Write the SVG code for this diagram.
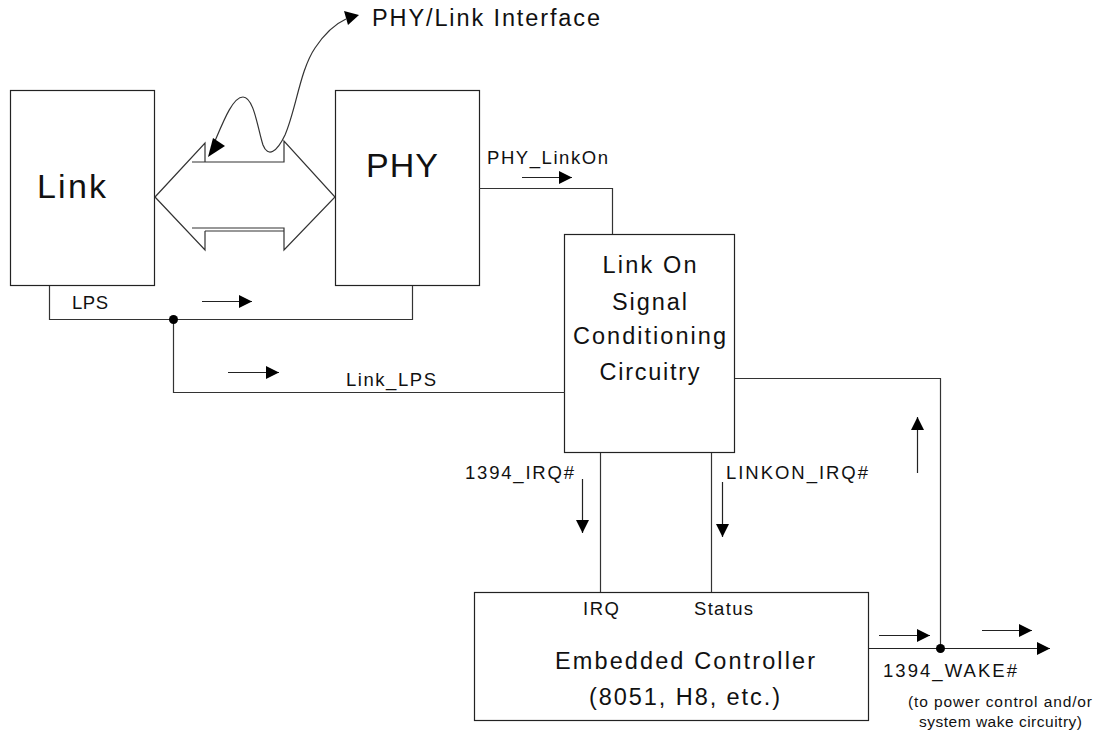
<svg xmlns="http://www.w3.org/2000/svg" width="1098" height="740" viewBox="0 0 1098 740">
<defs>
<style>
.box{fill:#fff;stroke:#222;stroke-width:1.2}
.ln{fill:none;stroke:#333;stroke-width:1.2}
.arr{fill:none;stroke:#222;stroke-width:1.2;marker-end:url(#ah)}
.t{font-family:"Liberation Sans",Arial,sans-serif;fill:#111}
.big{font-size:34px}
.mid{font-size:23.5px}
.sm{font-size:18.5px}
.xs{font-size:15.5px}
</style>
<marker id="ah" markerUnits="userSpaceOnUse" markerWidth="14" markerHeight="14" refX="13" refY="6.5" orient="auto">
<path d="M0,0 L13,6.5 L0,13 z" fill="#000"/>
</marker>
</defs>
<rect width="1098" height="740" fill="#fff"/>

<g id="link">
<rect class="box" x="10.5" y="90.5" width="144" height="195"/>
<text class="t big" x="37" y="198" textLength="69" lengthAdjust="spacing">Link</text>
</g>

<g id="phy">
<rect class="box" x="335.5" y="90.5" width="144" height="195"/>
<text class="t big" x="366" y="177" textLength="72" lengthAdjust="spacing">PHY</text>
</g>

<g id="bus">
<path class="ln" d="M155,197 L205,143 L205,162 M192,162 L284,162 L284,141 L335,197 L284,250 L284,228 L192,228 M205,231 L284,231 M205,231 L205,250 L155,197"/>
</g>

<g id="interface-label">
<path class="ln" d="M212,148 C222,125 232,97 243,97 C254,97 258,130 263,145 C268,158 277,152 285,135 C296,110 300,70 315,48 C325,33 335,24 346,19"/>
<polygon points="208,157 213,138 225,146" fill="#000"/>
<polygon points="359,15 344,11 348,25" fill="#000"/>
<text class="t mid" x="372" y="26" textLength="228" lengthAdjust="spacing">PHY/Link Interface</text>
</g>

<g id="linkon">
<rect class="box" x="564.5" y="234.5" width="170" height="218"/>
<text class="t mid" x="649.5" y="273" text-anchor="middle" textLength="94" lengthAdjust="spacing">Link On</text>
<text class="t mid" x="649.5" y="310" text-anchor="middle" textLength="75" lengthAdjust="spacing">Signal</text>
<text class="t mid" x="649.5" y="344" text-anchor="middle" textLength="153" lengthAdjust="spacing">Conditioning</text>
<text class="t mid" x="649.5" y="380" text-anchor="middle" textLength="100" lengthAdjust="spacing">Circuitry</text>
</g>

<g id="controller">
<rect class="box" x="474.5" y="592.5" width="394" height="128"/>
<text class="t sm" x="583" y="615" textLength="36" lengthAdjust="spacing">IRQ</text>
<text class="t sm" x="694" y="615" textLength="59" lengthAdjust="spacing">Status</text>
<text class="t mid" x="555" y="669" textLength="260" lengthAdjust="spacing">Embedded Controller</text>
<text class="t mid" x="589" y="705" textLength="191" lengthAdjust="spacing">(8051, H8, etc.)</text>
</g>

<g id="connectors">
<path class="ln" d="M49.5,286 V319.5 H412.5 V286"/>
<path class="ln" d="M173.5,319.5 V392.5 H565"/>
<path class="ln" d="M479,188.5 H612.5 V234"/>
<path class="ln" d="M735,378.5 H940.5 V648"/>
<path class="ln" d="M600.5,453 V592"/>
<path class="ln" d="M711.5,453 V592"/>
<line class="arr" x1="869" y1="648.5" x2="1050" y2="648.5"/>
<circle cx="173.5" cy="319.5" r="4.5" fill="#000"/>
<circle cx="940.5" cy="648.5" r="4.5" fill="#000"/>
<line class="arr" x1="202" y1="301.5" x2="252" y2="301.5"/>
<line class="arr" x1="522" y1="177.5" x2="572" y2="177.5"/>
<line class="arr" x1="228" y1="372.5" x2="279" y2="372.5"/>
<line class="arr" x1="582.5" y1="479" x2="582.5" y2="533"/>
<line class="arr" x1="722.5" y1="482" x2="722.5" y2="537"/>
<line class="arr" x1="917.5" y1="473" x2="917.5" y2="417"/>
<line class="arr" x1="879" y1="635.5" x2="930" y2="635.5"/>
<line class="arr" x1="982" y1="630.5" x2="1032" y2="630.5"/>
</g>

<g id="labels">
<text class="t sm" x="72" y="309" textLength="36" lengthAdjust="spacing">LPS</text>
<text class="t sm" x="487" y="164" textLength="121" lengthAdjust="spacing">PHY_LinkOn</text>
<text class="t sm" x="346" y="386" textLength="90" lengthAdjust="spacing">Link_LPS</text>
<text class="t sm" x="465" y="479" textLength="109" lengthAdjust="spacing">1394_IRQ#</text>
<text class="t sm" x="726" y="479" textLength="142" lengthAdjust="spacing">LINKON_IRQ#</text>
<text class="t sm" x="883" y="677" textLength="134" lengthAdjust="spacing">1394_WAKE#</text>
<text class="t xs" x="908" y="707" textLength="184" lengthAdjust="spacing">(to power control and/or</text>
<text class="t xs" x="919" y="727" textLength="163" lengthAdjust="spacing">system wake circuitry)</text>
</g>
</svg>
